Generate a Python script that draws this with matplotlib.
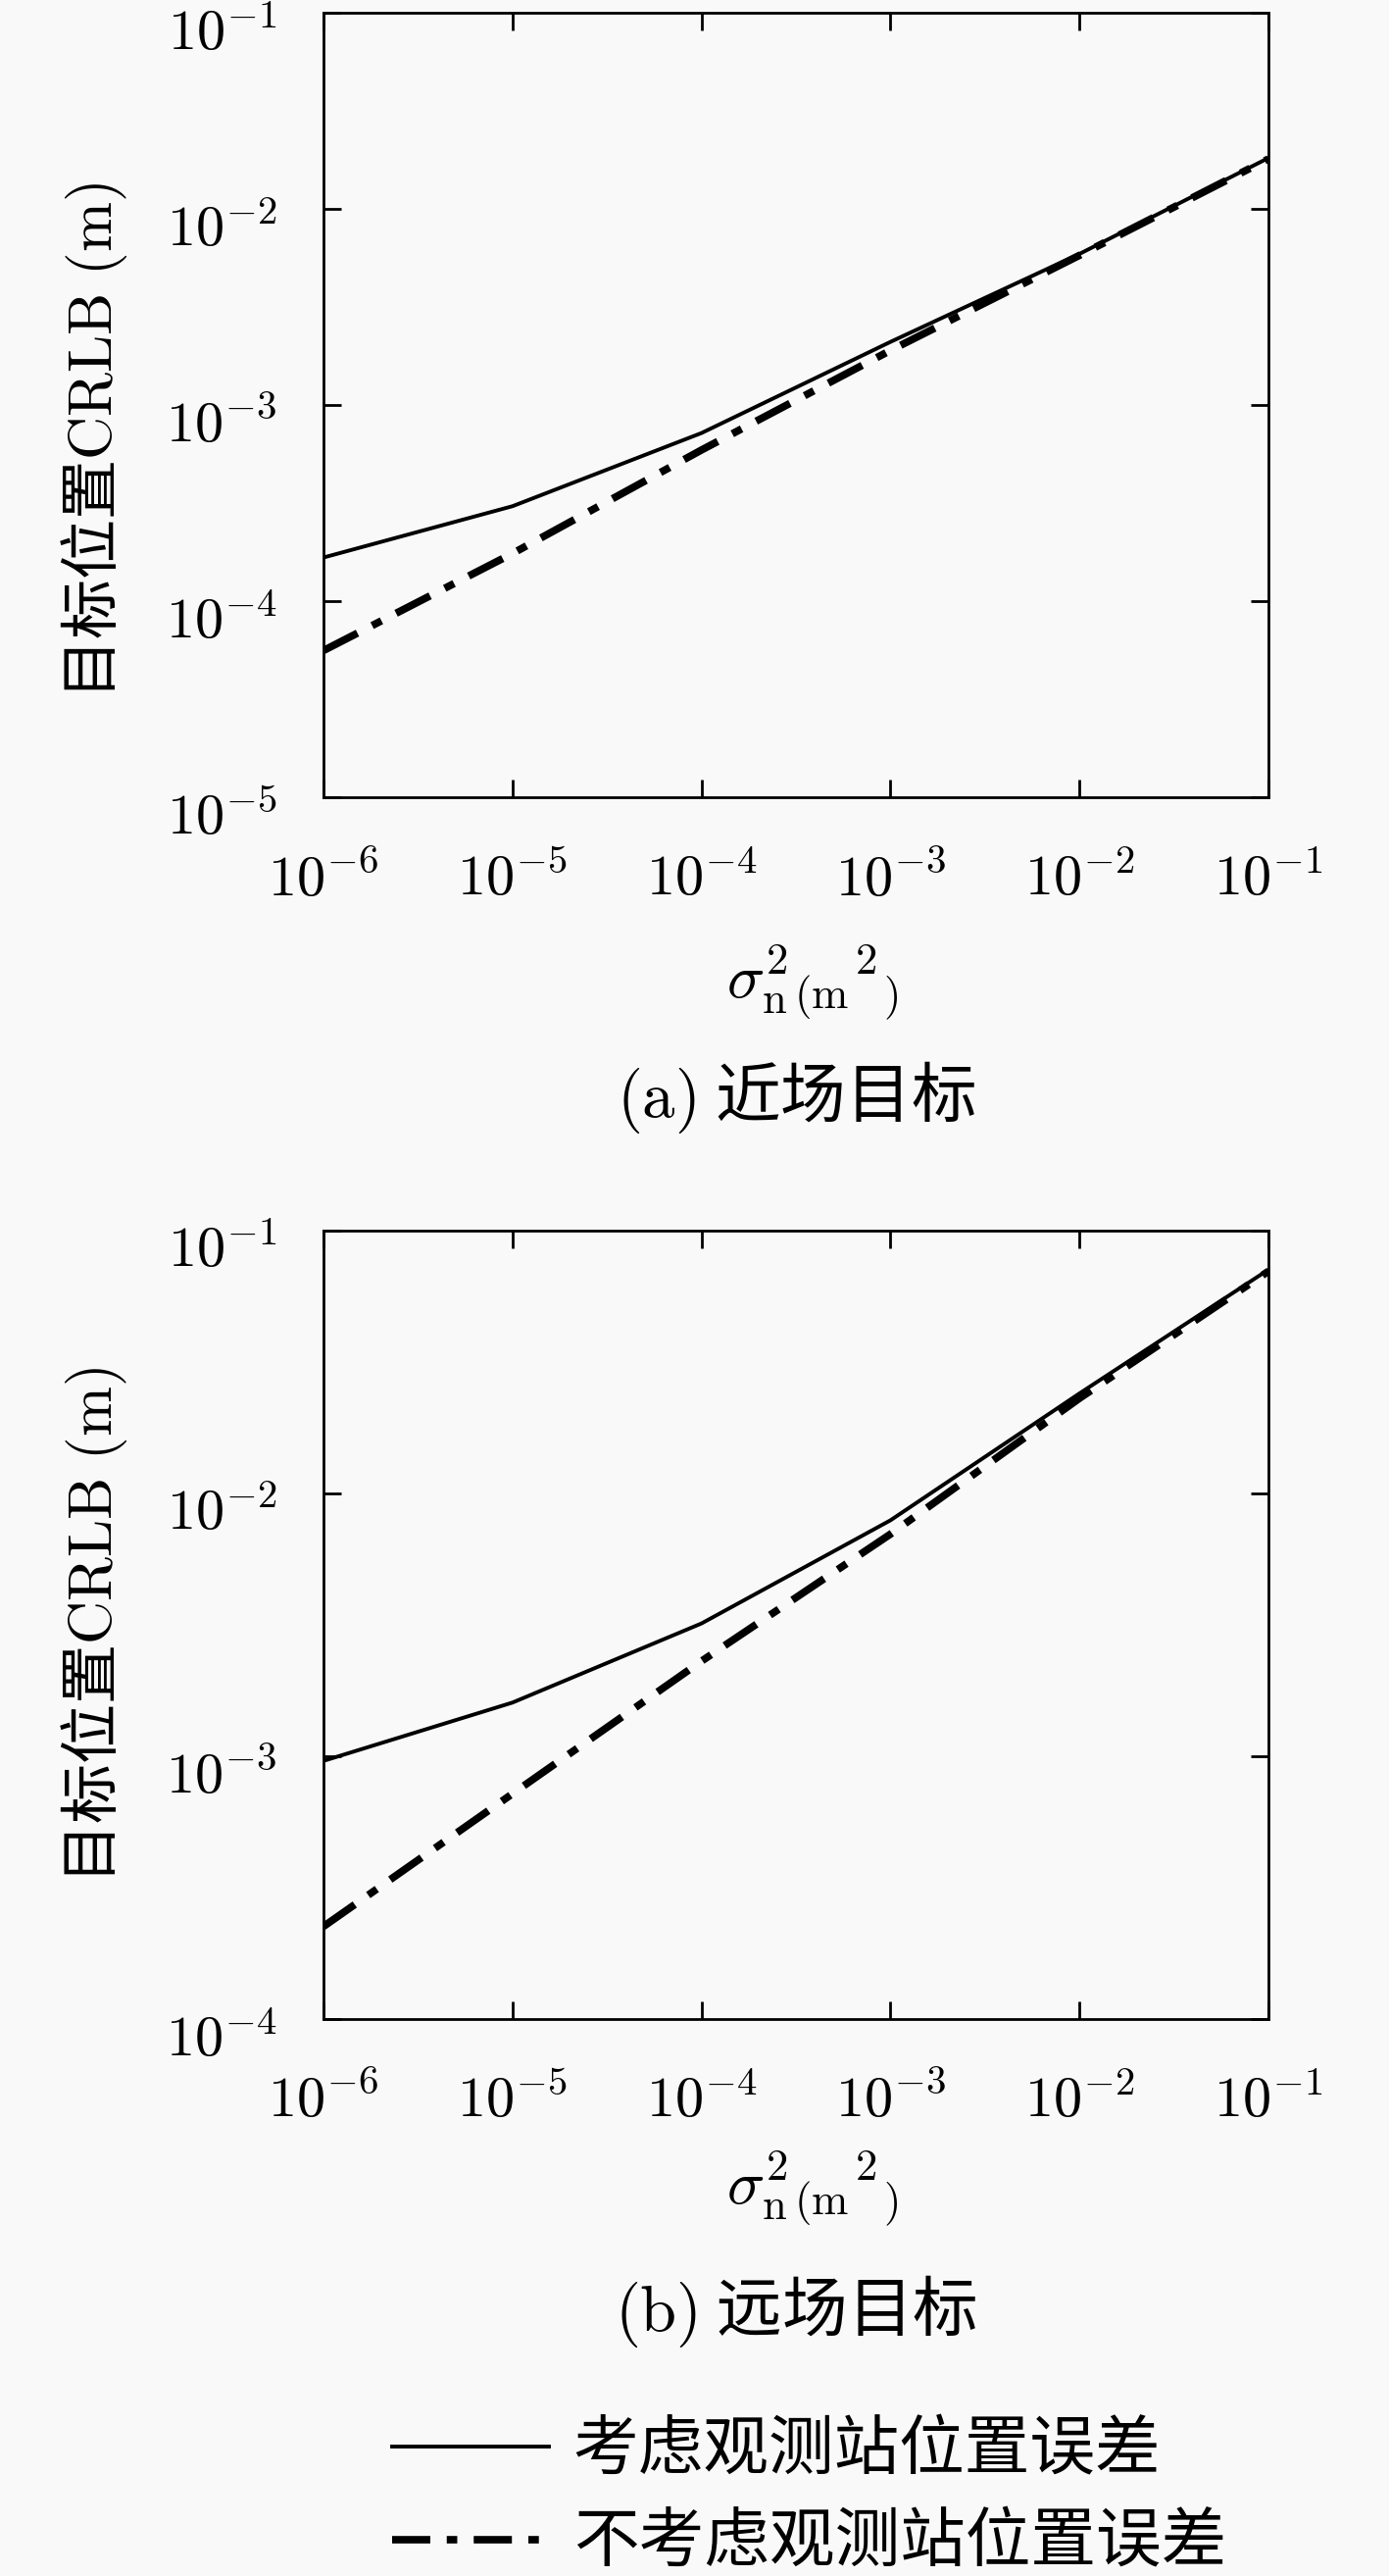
import numpy as np
from matplotlib import pyplot as plt
from matplotlib.ticker import FuncFormatter, FixedLocator, NullLocator
from matplotlib.transforms import ScaledTranslation

plt.rcParams['font.family'] = ['Noto Sans CJK SC', 'DejaVu Sans']
plt.rcParams['mathtext.fontset'] = 'cm'
plt.rcParams['axes.unicode_minus'] = True

# noise variance (m^2)
noise_var = [1e-6, 1e-5, 1e-4, 1e-3, 1e-2, 1e-1]

# (a) near-field target
near_with_err = [1.67e-4, 3.05e-4, 7.2e-4, 2.1e-3, 5.9e-3, 1.82e-2]
near_without_err = [5.6e-5, 1.75e-4, 5.9e-4, 1.9e-3, 5.8e-3, 1.8e-2]

# (b) far-field target
far_with_err = [9.6e-4, 1.6e-3, 3.2e-3, 7.9e-3, 2.4e-2, 7.1e-2]
far_without_err = [2.25e-4, 7.2e-4, 2.3e-3, 7.0e-3, 2.3e-2, 7.0e-2]

labels = ['考虑观测站位置误差', '不考虑观测站位置误差']
captions = [r'$\mathrm{(a)}$ 近场目标', r'$\mathrm{(b)}$ 远场目标']
ylims = [(1e-5, 1e-1), (1e-4, 1e-1)]

bg = '#f9f9f9'
tick_fs = 42

fig = plt.figure(figsize=(14.17, 26.27), dpi=100, facecolor=bg)
ax1 = fig.add_axes([0.2329, 0.6905, 0.6803, 0.3045])
ax2 = fig.add_axes([0.2329, 0.2162, 0.6803, 0.3061])

dashdot = (0, (5.1, 2.2, 1.4, 2.2))
fmt = FuncFormatter(lambda v, p: r'$10^{%d}$' % int(round(np.log10(v))))
xlab = r'$\sigma^{2}_{\mathrm{n}}{}_{(\mathrm{m}}{}^{2}{}_{)}$'

series = [(near_with_err, near_without_err), (far_with_err, far_without_err)]
handles = []
for i, ax in enumerate([ax1, ax2]):
    with_err, without_err = series[i]
    ax.set_facecolor(bg)
    l1, = ax.plot(noise_var, with_err, color='black', linewidth=2.8, label=labels[0])
    l2, = ax.plot(noise_var, without_err, color='black', linewidth=5.5,
                  linestyle=dashdot, label=labels[1])
    handles = [l1, l2]

    ax.set_xscale('log')
    ax.set_yscale('log')
    ax.set_xlim(1e-6, 1e-1)
    ax.set_ylim(*ylims[i])
    ax.xaxis.set_major_locator(FixedLocator(noise_var))
    lo, hi = np.log10(ylims[i])
    ax.yaxis.set_major_locator(FixedLocator(10.0 ** np.arange(lo, hi + 1)))
    ax.xaxis.set_minor_locator(NullLocator())
    ax.yaxis.set_minor_locator(NullLocator())
    ax.xaxis.set_major_formatter(fmt)
    ax.yaxis.set_major_formatter(fmt)

    ax.tick_params(which='major', direction='in', length=13, width=2,
                   top=True, right=True, labelsize=tick_fs)
    ax.tick_params(axis='x', pad=38)
    ax.tick_params(axis='y', pad=34)
    for sp in ax.spines.values():
        sp.set_linewidth(2)

    ax.set_ylabel(r'目标位置$\mathrm{CRLB\ (m)}$', fontsize=44, va='center')
    ax.yaxis.set_label_coords(-0.243, 0.455 if i == 0 else 0.5)
    ax.set_xlabel(xlab, fontsize=46, va='center')

    # y tick labels sit a little below their ticks in the original
    shift = ScaledTranslation(0, -0.14, fig.dpi_scale_trans)
    for t in ax.yaxis.get_major_ticks():
        t.label1.set_transform(t.label1.get_transform() + shift)

ax1.xaxis.set_label_coords(0.517, -0.236)
ax2.xaxis.set_label_coords(0.517, -0.216)

fig.text(0.573, 1 - 1119 / 2627, captions[0], fontsize=48, ha='center', va='center')
fig.text(0.573, 1 - 2357 / 2627, captions[1], fontsize=48, ha='center', va='center')

fig.legend(handles, labels, loc='center left', bbox_to_anchor=(400 / 1417, 1 - 2547 / 2627),
           frameon=False, fontsize=48, handlelength=2.4, handletextpad=0.37,
           labelspacing=0.40, borderpad=0, borderaxespad=0)

fig.savefig('out.png', dpi=100, facecolor=bg)
